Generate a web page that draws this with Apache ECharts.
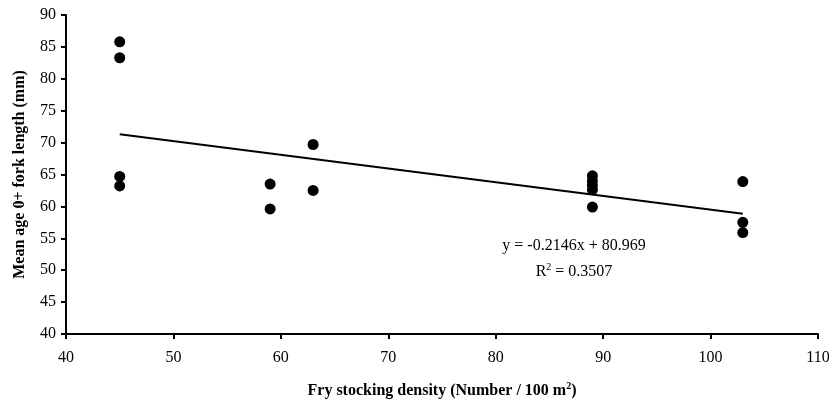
<!DOCTYPE html>
<html>
<head>
<meta charset="utf-8">
<script src="https://cdn.jsdelivr.net/npm/echarts@6/dist/echarts.min.js"></script>
<style>
  html, body { margin: 0; padding: 0; background: #fff; }
  #chart { width: 833px; height: 406px; }
</style>
</head>
<body>
<div id="chart"></div>
<script>
// stocking density (x) and mean fork length (y)
const density = [45, 45, 45, 45, 59, 59, 63, 63, 89, 89, 89, 89, 89, 103, 103, 103]
const forkLength = [85.8, 83.3, 64.7, 63.2, 63.5, 59.6, 69.7, 62.5, 64.8, 64.0, 63.3, 62.6, 59.9, 63.9, 57.5, 55.9]
const slope = -0.2146
const intercept = 80.969
const rSquared = '0.3507'
const fitRange = [45, 103]

const points = density.map((x, i) => [x, forkLength[i]])
const fitLine = fitRange.map(x => [x, slope * x + intercept])

const font = '"Liberation Serif", "Times New Roman", serif'
const supStyle = { fontFamily: font, fontSize: 10, verticalAlign: 'top', padding: [0, 0, 9, 0] }
const axisCommon = {
  axisLine: { lineStyle: { color: '#000', width: 2 } },
  axisTick: { show: true, inside: false, length: 5, lineStyle: { color: '#000', width: 2 } },
  axisLabel: { color: '#000', fontFamily: font, fontSize: 16 },
  splitLine: { show: false },
  nameLocation: 'middle',
  nameTextStyle: { color: '#000', fontFamily: font, fontSize: 16, fontWeight: 'bold' }
}

const chart = echarts.init(document.getElementById('chart'))
chart.setOption({
  animation: false,
  grid: { left: 66, right: 15, top: 15, bottom: 72 },
  xAxis: Object.assign({}, axisCommon, {
    type: 'value', min: 40, max: 110, interval: 10,
    name: 'Fry stocking density (Number / 100 m{sup|2})',
    nameGap: 47,
    nameTextStyle: Object.assign({}, axisCommon.nameTextStyle, {
      rich: { sup: Object.assign({}, supStyle, { fontWeight: 'bold' }) }
    }),
    axisLabel: Object.assign({}, axisCommon.axisLabel, { margin: 16 })
  }),
  yAxis: Object.assign({}, axisCommon, {
    type: 'value', min: 40, max: 90, interval: 5,
    name: 'Mean age 0+ fork length (mm)',
    nameGap: 38,
    axisLabel: Object.assign({}, axisCommon.axisLabel, { margin: 10 })
  }),
  graphic: [
    {
      type: 'text', x: 574, y: 246,
      style: { text: 'y = -0.2146x + 80.969', fill: '#000', font: '16px ' + font, align: 'center', verticalAlign: 'middle' }
    },
    {
      type: 'text', x: 574, y: 272,
      style: {
        text: 'R{sup|2} = ' + rSquared,
        fill: '#000', font: '16px ' + font, align: 'center', verticalAlign: 'middle',
        rich: { sup: supStyle }
      }
    }
  ],
  series: [
    {
      type: 'line',
      data: fitLine,
      showSymbol: false,
      lineStyle: { color: '#000', width: 2 },
      z: 1
    },
    {
      type: 'scatter',
      data: points,
      symbolSize: 11,
      itemStyle: { color: '#000', opacity: 1 },
      z: 2
    }
  ]
})
</script>
</body>
</html>
